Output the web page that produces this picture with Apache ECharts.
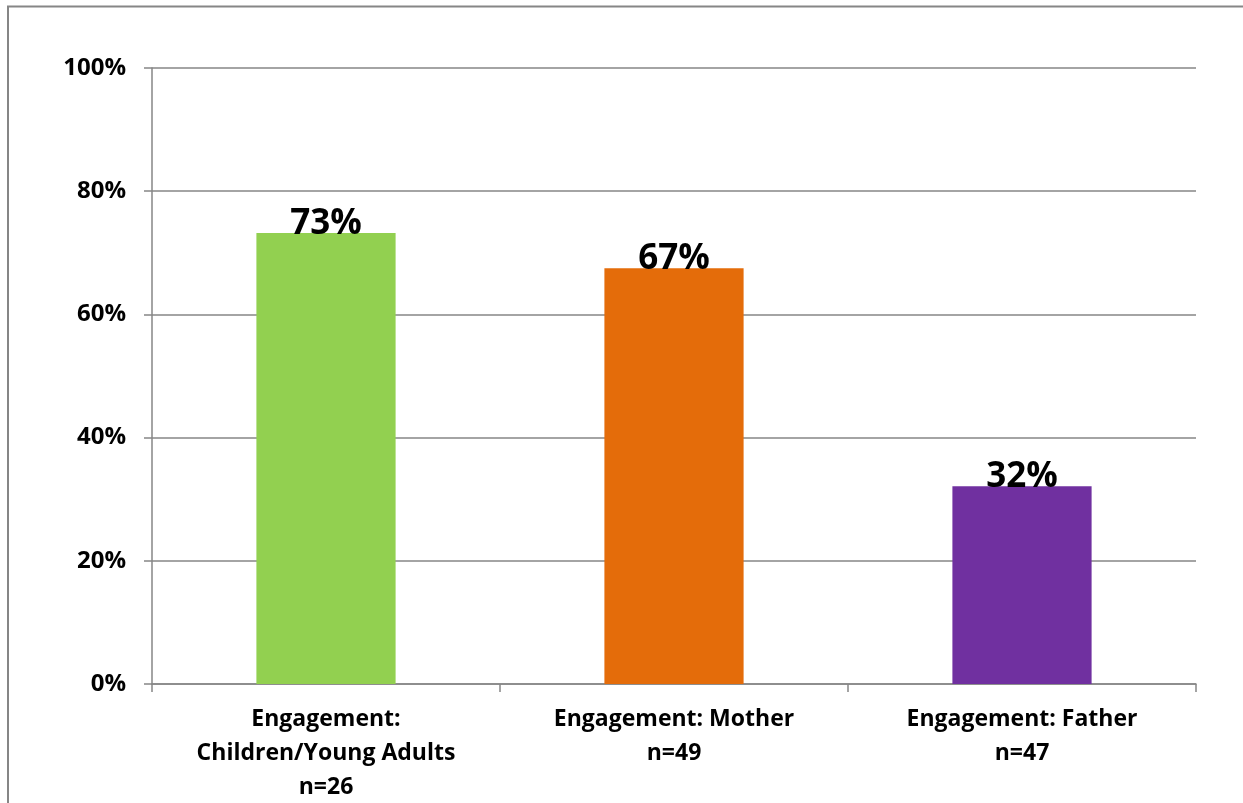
<!DOCTYPE html>
<html><head><meta charset="utf-8">
<script src="https://cdn.jsdelivr.net/npm/echarts@6/dist/echarts.min.js"></script>
<style>html,body{margin:0;padding:0;background:#fff}#c{width:1243px;height:803px}</style>
</head><body><div id="c"></div>
<script>
const categories = ["Engagement:\nChildren/Young Adults\nn=26", "Engagement: Mother\nn=49", "Engagement: Father\nn=47"];
const values = [73.2, 67.5, 32.1];
const valueLabels = ["73%", "67%", "32%"];
const colors = ["#92D050", "#E46C0A", "#7030A0"];
const yTicks = [0, 20, 40, 60, 80, 100];

const chart = echarts.init(document.getElementById('c'));
const FONT = '"Open Sans", sans-serif';
chart.setOption({
  animation: false,
  backgroundColor: '#fff',
  graphic: [{
    type: 'polyline', silent: true,
    shape: { points: [[8, 810], [8, 6.5], [1250, 6.5]] },
    style: { stroke: '#868686', lineWidth: 2, fill: null }
  }],
  grid: { left: 152, right: 47, top: 68, bottom: 119, containLabel: false, outerBoundsMode: 'none' },
  xAxis: {
    type: 'category', data: categories,
    axisLine: { show: true, lineStyle: { color: '#868686', width: 1.5 } },
    axisTick: { show: true, alignWithLabel: false, length: 8, lineStyle: { color: '#868686', width: 1.5 } },
    axisLabel: { color: '#000', fontFamily: FONT, fontWeight: 'bold', fontSize: 23, lineHeight: 34, margin: 18, interval: 0 }
  },
  yAxis: {
    type: 'value', min: 0, max: 100, interval: 20,
    axisLine: { show: true, lineStyle: { color: '#868686', width: 1.5 } },
    axisTick: { show: true, length: 8, lineStyle: { color: '#868686', width: 1.5 } },
    splitLine: { show: true, lineStyle: { color: '#868686', width: 1.5 } },
    axisLabel: {
      color: '#000', fontFamily: FONT, fontWeight: 'bold', fontSize: 24, margin: 26,
      formatter: v => yTicks.includes(v) ? v + '%' : ''
    }
  },
  series: [{
    type: 'bar', barWidth: '40%',
    data: values.map((v, i) => ({ value: v, itemStyle: { color: colors[i] } })),
    label: {
      show: true, position: 'top', distance: 0, offset: [0, 8],
      color: '#000', fontFamily: FONT, fontWeight: 'bold', fontSize: 35,
      formatter: p => valueLabels[p.dataIndex]
    }
  }]
});
</script></body></html>
